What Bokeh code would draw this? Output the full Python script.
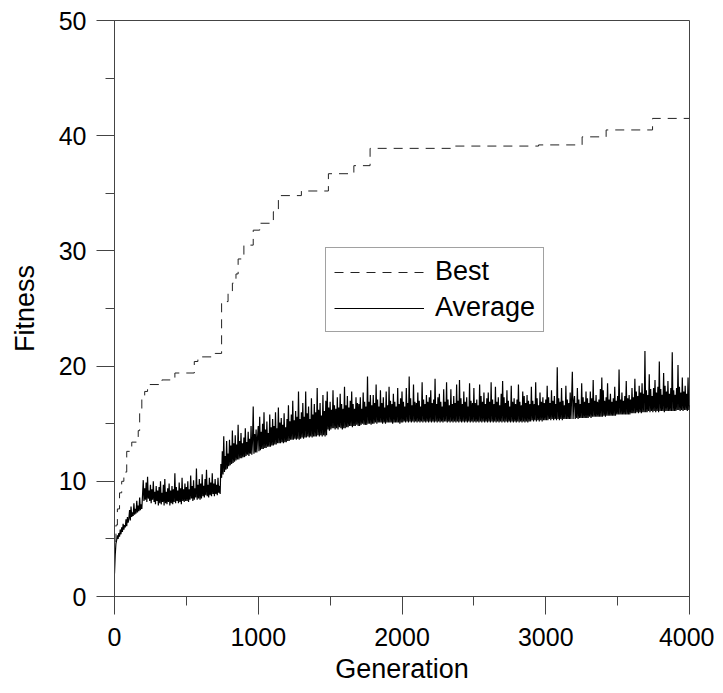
from bokeh.plotting import figure
from bokeh.models import Range1d, SingleIntervalTicker, Legend, LegendItem, ColumnDataSource
from bokeh.embed import file_html
from bokeh.resources import INLINE

# ---- data ----
best_gen = [0, 10, 20, 35, 50, 65, 85, 120, 165, 175, 190, 210, 230, 330, 420, 555, 580, 700,
            745, 790, 820, 845, 860, 900, 965, 1010, 1105, 1140, 1300, 1488, 1665, 1778,
            2350, 2950, 3253, 3420, 3743, 4000]
best_fit = [4.8, 6.2, 7.6, 9.0, 10.0, 10.8, 12.6, 13.4, 14.4, 16.0, 17.4, 17.8, 18.4, 18.8, 19.4, 20.4, 20.8, 21.1,
            25.6, 26.3, 27.2, 28.0, 29.3, 30.5, 31.8, 32.4, 33.4, 34.8, 35.2, 36.7, 37.4, 38.9,
            39.1, 39.2, 39.9, 40.5, 41.5, 41.5]

# average fitness, one value every 5 generations (one row = 100 generations)
avg_fit = [
    2.0, 3.6, 4.6, 4.9, 5.3, 5.0, 5.5, 5.2, 5.8, 5.4, 6.0, 5.6, 6.3, 5.8, 6.2, 6.0, 6.7, 6.1, 6.9, 6.4,
    6.8, 7.5, 6.6, 7.8, 6.9, 7.3, 7.0, 8.1, 7.1, 7.6, 7.2, 8.3, 7.3, 7.9, 7.4, 8.6, 7.5, 8.0, 7.6, 8.8,
    10.1, 8.3, 9.4, 8.4, 9.9, 8.2, 10.4, 8.5, 9.2, 8.3, 9.7, 8.1, 9.3, 8.4, 10.0, 8.2, 9.1, 8.0, 9.6, 8.3,
    9.2, 7.9, 9.5, 8.1, 10.0, 8.0, 9.0, 8.2, 9.7, 7.9, 10.2, 8.1, 9.1, 8.0, 9.4, 8.2, 9.8, 7.9, 9.2, 8.1,
    9.6, 8.0, 9.3, 8.2, 10.7, 8.1, 9.5, 8.3, 9.2, 8.1, 9.9, 8.2, 9.4, 8.0, 10.3, 8.3, 9.3, 8.2, 9.8, 8.3,
    9.5, 8.3, 10.0, 8.2, 9.3, 8.4, 10.5, 8.5, 9.6, 8.3, 10.1, 8.4, 9.4, 8.6, 11.1, 8.4, 9.7, 8.5, 10.2, 8.4,
    9.8, 8.5, 10.6, 8.7, 9.6, 8.6, 10.2, 8.8, 11.0, 8.7, 9.7, 8.6, 10.3, 8.8, 9.9, 8.7, 10.7, 8.9, 9.8, 8.7,
    10.2, 8.9, 9.7, 8.8, 10.3, 9.0, 9.6, 8.9, 11.5, 10.3, 12.6, 10.6, 13.9, 10.8, 12.2, 11.0, 13.5, 11.1, 12.4, 11.3,
    13.6, 11.4, 13.1, 11.5, 14.4, 11.6, 13.3, 11.7, 14.0, 11.8, 13.2, 11.9, 14.9, 11.9, 13.5, 12.0, 14.2, 12.0, 13.3, 12.1,
    13.8, 12.1, 14.6, 12.2, 13.4, 12.3, 14.3, 12.2, 13.7, 12.4, 14.8, 12.3, 13.5, 16.5, 12.4, 14.1, 12.5, 14.5, 12.5, 13.8,
    14.8, 12.6, 15.6, 12.7, 14.3, 12.8, 15.0, 12.8, 16.0, 12.9, 14.5, 12.9, 15.2, 13.0, 14.2, 13.0, 15.8, 13.0, 14.7, 13.1,
    15.4, 13.1, 14.8, 13.2, 16.0, 13.2, 14.6, 13.3, 16.4, 13.3, 15.1, 13.3, 15.5, 13.4, 14.9, 13.3, 15.9, 13.4, 14.7, 13.4,
    15.4, 13.5, 16.6, 13.5, 15.2, 13.6, 15.8, 13.6, 17.0, 13.6, 15.3, 13.7, 16.1, 13.6, 15.6, 13.7, 17.8, 13.6, 15.4, 13.7,
    16.0, 13.8, 16.8, 13.7, 15.6, 13.8, 17.8, 13.8, 15.9, 13.9, 16.5, 13.8, 15.4, 13.9, 17.2, 13.8, 15.8, 13.9, 16.7, 13.9,
    16.0, 13.9, 18.1, 14.0, 16.2, 13.9, 16.8, 14.0, 15.7, 13.9, 17.5, 14.0, 16.1, 13.9, 17.0, 14.0, 17.8, 14.5, 16.4, 14.4,
    16.9, 14.5, 16.2, 14.6, 17.9, 14.6, 16.6, 14.5, 16.3, 14.6, 17.3, 14.5, 16.4, 14.7, 17.6, 14.6, 16.7, 14.5, 16.3, 14.6,
    18.2, 14.6, 16.6, 14.7, 17.4, 14.7, 16.4, 14.8, 17.0, 14.8, 17.8, 14.7, 16.7, 14.8, 16.3, 14.8, 17.3, 14.9, 16.8, 14.8,
    16.7, 14.8, 17.3, 14.9, 16.3, 15.0, 17.7, 14.9, 16.9, 14.9, 16.5, 14.9, 19.1, 15.0, 16.9, 15.0, 17.5, 14.9, 16.6, 15.0,
    17.5, 15.0, 16.8, 15.1, 18.4, 15.0, 17.1, 15.1, 16.5, 15.1, 17.9, 15.1, 16.8, 15.0, 17.3, 15.1, 16.4, 15.0, 17.8, 15.1,
    16.6, 15.1, 18.2, 15.1, 17.0, 15.1, 16.7, 15.0, 17.6, 15.1, 16.9, 15.1, 16.5, 15.1, 18.1, 15.1, 16.7, 15.0, 17.2, 15.1,
    17.8, 15.1, 16.9, 15.2, 16.5, 15.1, 18.1, 15.2, 16.8, 15.1, 19.1, 15.2, 17.2, 15.1, 16.6, 15.2, 18.4, 15.1, 16.9, 15.2,
    16.8, 15.1, 17.7, 15.2, 17.0, 15.1, 16.5, 15.2, 18.6, 15.1, 17.1, 15.2, 16.7, 15.1, 17.5, 15.2, 16.9, 15.1, 17.3, 15.2,
    17.9, 15.1, 16.8, 15.2, 17.1, 15.1, 18.9, 15.2, 16.7, 15.1, 17.3, 15.2, 17.6, 15.1, 16.9, 15.2, 16.5, 15.1, 18.0, 15.2,
    16.9, 15.2, 18.6, 15.1, 17.1, 15.2, 16.6, 15.1, 18.0, 15.2, 16.7, 15.1, 17.4, 15.2, 16.8, 15.1, 18.4, 15.2, 17.0, 15.1,
    18.8, 15.2, 17.2, 15.1, 16.7, 15.2, 17.8, 15.1, 16.9, 15.2, 17.3, 15.1, 16.5, 15.2, 18.5, 15.1, 17.0, 15.2, 16.8, 15.1,
    18.1, 15.2, 16.8, 15.1, 17.1, 15.2, 16.6, 15.1, 18.4, 15.2, 17.4, 15.1, 16.9, 15.2, 17.7, 15.1, 16.7, 15.2, 17.2, 15.1,
    17.7, 15.2, 16.9, 15.1, 18.6, 15.2, 17.1, 15.1, 16.7, 15.2, 18.2, 15.1, 16.9, 15.2, 17.3, 15.1, 16.6, 15.2, 17.6, 15.1,
    18.7, 15.2, 17.3, 15.1, 16.8, 15.2, 17.9, 15.1, 17.0, 15.2, 16.5, 15.1, 18.3, 15.2, 16.9, 15.1, 17.2, 15.2, 16.7, 15.1,
    17.1, 15.2, 18.4, 15.1, 16.9, 15.2, 16.6, 15.1, 17.8, 15.2, 17.4, 15.1, 16.8, 15.2, 17.5, 15.1, 17.0, 15.2, 16.7, 15.2,
    18.2, 15.3, 17.0, 15.2, 16.7, 15.3, 18.6, 15.2, 17.2, 15.3, 16.6, 15.2, 17.7, 15.3, 16.9, 15.2, 17.3, 15.3, 16.8, 15.3,
    17.1, 15.3, 18.3, 15.3, 17.3, 15.4, 16.8, 15.3, 17.9, 15.4, 17.0, 15.3, 17.4, 15.4, 16.7, 15.3, 19.9, 15.4, 17.2, 15.3,
    16.9, 15.4, 18.1, 15.3, 17.0, 15.4, 16.6, 15.4, 18.3, 15.4, 17.1, 15.4, 16.8, 15.4, 17.7, 15.4, 17.2, 19.5, 15.4, 16.9,
    17.4, 15.4, 16.8, 15.5, 18.1, 15.4, 17.1, 15.5, 16.7, 15.5, 18.5, 15.5, 17.3, 15.5, 16.9, 15.5, 17.8, 15.5, 17.2, 15.5,
    16.8, 15.6, 17.8, 15.5, 17.2, 15.6, 18.8, 15.6, 17.0, 15.6, 17.5, 15.6, 16.9, 15.6, 17.1, 15.6, 18.0, 15.6, 19.0, 15.6,
    17.9, 15.7, 17.0, 15.6, 17.3, 15.7, 18.5, 15.7, 17.1, 15.7, 17.6, 15.7, 16.9, 15.7, 17.2, 15.7, 18.2, 15.7, 17.0, 15.8,
    17.4, 15.8, 19.7, 15.8, 17.1, 15.8, 17.7, 15.8, 17.0, 15.8, 17.4, 15.8, 18.7, 15.8, 17.2, 15.8, 17.5, 15.8, 17.1, 15.9,
    18.1, 15.9, 17.3, 15.9, 18.9, 15.9, 17.8, 16.0, 17.4, 15.9, 18.3, 16.0, 17.7, 15.9, 18.5, 16.0, 17.6, 16.0, 21.3, 16.0,
    17.9, 16.0, 17.5, 16.1, 19.3, 16.0, 18.0, 16.1, 17.4, 16.0, 18.1, 16.1, 18.8, 16.0, 17.7, 16.1, 18.2, 16.0, 20.4, 16.1,
    18.0, 16.1, 17.5, 16.1, 19.4, 16.0, 18.3, 16.1, 17.8, 16.1, 18.7, 16.1, 17.6, 16.1, 18.1, 16.1, 21.2, 16.1, 17.9, 16.1,
    17.5, 16.1, 18.1, 16.2, 20.1, 16.2, 18.2, 16.1, 17.7, 16.2, 19.0, 16.1, 17.8, 16.2, 18.3, 16.2, 17.6, 16.1, 19.0, 16.2,
    16.6,
]
avg_gen = [5 * i for i in range(len(avg_fit))]

x_label = "Generation"
y_label = "Fitness"
series_names = ["Best", "Average"]

FONT = "Liberation Sans"
FS_TICK = "25px"
FS_LAB = "27px"
AX = "#444444"

p = figure(width=714, height=689,
           x_range=Range1d(0, 4000), y_range=Range1d(0, 50),
           output_backend="svg", toolbar_location=None,
           min_border_left=114, min_border_top=20, min_border_right=25, min_border_bottom=93)

p.background_fill_color = "white"
p.border_fill_color = "white"
p.outline_line_color = AX
p.outline_line_width = 1
p.xgrid.visible = False
p.ygrid.visible = False

p.xaxis.ticker = SingleIntervalTicker(interval=1000, num_minor_ticks=2)
p.yaxis.ticker = SingleIntervalTicker(interval=10, num_minor_ticks=2)

for ax in (p.xaxis[0], p.yaxis[0]):
    ax.axis_line_color = AX
    ax.axis_line_width = 1
    ax.major_tick_line_color = AX
    ax.minor_tick_line_color = AX
    ax.major_tick_in = 0
    ax.minor_tick_in = 0
    ax.major_tick_out = 18
    ax.minor_tick_out = 9
    ax.major_label_text_font = FONT
    ax.major_label_text_font_size = FS_TICK
    ax.major_label_text_color = "black"
    ax.axis_label_text_font = FONT
    ax.axis_label_text_font_size = FS_LAB
    ax.axis_label_text_font_style = "normal"
    ax.axis_label_text_color = "black"

p.xaxis.axis_label = x_label
p.yaxis.axis_label = y_label
p.xaxis.major_label_standoff = 13
p.yaxis.major_label_standoff = 10
p.xaxis.axis_label_standoff = 5
p.yaxis.axis_label_standoff = 16

avg_src = ColumnDataSource(dict(x=avg_gen, y=avg_fit))
best_src = ColumnDataSource(dict(x=best_gen, y=best_fit))

avg_r = p.line("x", "y", source=avg_src, line_color="black", line_width=1.2)
best_r = p.step("x", "y", source=best_src, mode="after", line_color="#222222",
                line_width=1, line_dash="9 7")

legend = Legend(items=[LegendItem(label=series_names[0], renderers=[best_r]),
                       LegendItem(label=series_names[1], renderers=[avg_r])],
                location=(211, 264))
legend.label_text_font = FONT
legend.label_text_font_size = FS_LAB
legend.label_text_color = "black"
legend.glyph_width = 90
legend.glyph_height = 30
legend.label_height = 30
legend.label_standoff = 11
legend.spacing = 5
legend.padding = 8
legend.margin = 0
legend.border_line_color = AX
legend.border_line_width = 1
legend.background_fill_color = "white"
legend.background_fill_alpha = 1
p.add_layout(legend, "center")

open("out.html", "w").write(file_html(p, INLINE))
